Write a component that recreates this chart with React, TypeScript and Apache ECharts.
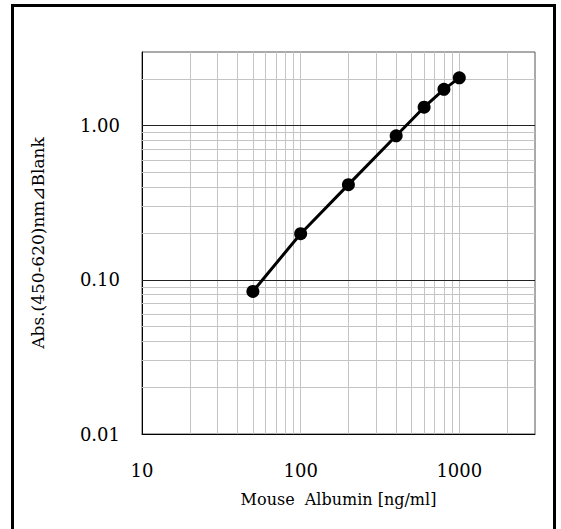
import React, { useEffect, useRef } from "react";
import * as echarts from "echarts";

const concentrations = [50, 100, 200, 400, 600, 800, 1000];
const absorbances = [0.084, 0.199, 0.414, 0.859, 1.315, 1.717, 2.04];
const xMinorGrid = [20, 30, 40, 50, 60, 70, 80, 90, 100, 200, 300, 400, 500, 600, 700, 800, 900, 1000, 2000];
const yMinorGrid = [0.02, 0.03, 0.04, 0.05, 0.06, 0.07, 0.08, 0.09, 0.2, 0.3, 0.4, 0.5, 0.6, 0.7, 0.8, 0.9, 2];
const yMajorGrid = [0.1, 1];
const xAxisTitle = "Mouse  Albumin [ng/ml]";
const yAxisTitle = "Abs.(450-620)nm⊿Blank";

const FONT = "DejaVu Serif";

export default function App() {
  const ref = useRef<HTMLDivElement>(null);
  useEffect(() => {
    if (!ref.current) return;
    const chart = echarts.init(ref.current, null, { renderer: "svg" });
    const markData: any[] = [];
    xMinorGrid.forEach((v) => markData.push({ xAxis: v, lineStyle: { color: "#c4c4c4", width: 1, type: "solid" } }));
    yMinorGrid.forEach((v) => markData.push({ yAxis: v, lineStyle: { color: "#c4c4c4", width: 1, type: "solid" } }));
    yMajorGrid.forEach((v) => markData.push({ yAxis: v, lineStyle: { color: "#222", width: 1, type: "solid" } }));
    chart.setOption({
      animation: false,
      backgroundColor: "#fff",
      graphic: [
        {
          type: "rect",
          shape: { x: 12.5, y: 5.5, width: 542, height: 600 },
          style: { fill: "none", stroke: "#000", lineWidth: 3 },
          z: 10,
        },
      ],
      grid: {
        left: 142,
        right: 26,
        top: 52,
        bottom: 95,
        show: true,
        borderColor: "#555",
        borderWidth: 1,
        backgroundColor: "transparent",
      },
      xAxis: {
        type: "log",
        logBase: 10,
        min: 10,
        max: 3000,
        name: xAxisTitle,
        nameLocation: "middle",
        nameGap: 57,
        nameTextStyle: { fontFamily: FONT, fontSize: 16, color: "#000" },
        axisLine: { show: true, lineStyle: { color: "#000", width: 1 } },
        axisTick: { show: true, inside: true, length: 5, lineStyle: { color: "#000" } },
        axisLabel: {
          fontFamily: FONT,
          fontSize: 18,
          color: "#000",
          margin: 27,
          showMaxLabel: false,
          formatter: (v: number) => String(Math.round(v)),
        },
        splitLine: { show: false },
      },
      yAxis: {
        type: "log",
        logBase: 10,
        min: 0.01,
        max: 3,
        name: yAxisTitle,
        nameLocation: "middle",
        nameGap: 96,
        nameTextStyle: { fontFamily: FONT, fontSize: 17, color: "#000" },
        axisLine: { show: true, lineStyle: { color: "#000", width: 1 } },
        axisTick: { show: false },
        axisLabel: {
          fontFamily: FONT,
          fontSize: 18,
          color: "#000",
          margin: 22,
          showMaxLabel: false,
          formatter: (v: number) => v.toFixed(2),
        },
        splitLine: { show: false },
      },
      series: [
        {
          type: "line",
          data: [],
          z: 1,
          silent: true,
          markLine: {
            silent: true,
            symbol: ["none", "none"],
            label: { show: false },
            emphasis: { disabled: true },
            data: markData,
          },
        },
        {
          type: "line",
          z: 5,
          data: concentrations.map((c, i) => [c, absorbances[i]]),
          symbol: "circle",
          symbolSize: 13,
          itemStyle: { color: "#000" },
          lineStyle: { color: "#000", width: 3 },
        },
      ],
    });
    return () => chart.dispose();
  }, []);
  return (
    <div
      ref={ref}
      style={{ position: "fixed", left: 0, top: 0, width: 561, height: 529 }}
    />
  );
}
